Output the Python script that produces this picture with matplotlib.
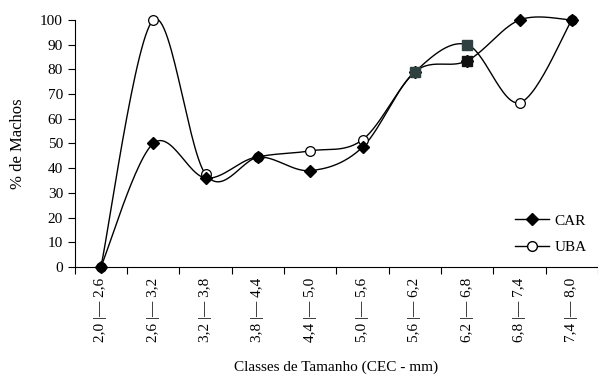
import matplotlib
matplotlib.use('Agg')
import matplotlib.pyplot as plt
import numpy as np

plt.rcParams['font.family'] = ['Liberation Serif', 'DejaVu Serif']

classes = ['2,0 |— 2,6', '2,6 |— 3,2', '3,2 |— 3,8', '3,8 |— 4,4', '4,4 |— 5,0',
           '5,0 |— 5,6', '5,6 |— 6,2', '6,2 |— 6,8', '6,8 |— 7,4', '7,4 |— 8,0']
car = [0, 50, 36, 44.5, 39, 48.5, 79, 83.5, 100, 100]
uba = [0, 100, 37.5, 44.5, 47, 51.5, 79, 90, 66.5, 100]


# smoothed line like the spreadsheet's "smooth line" option
def smooth(x, y, n=30):
    x = np.asarray(x, float)
    y = np.asarray(y, float)
    px = np.concatenate([[x[0]], x, [x[-1]]])
    py = np.concatenate([[y[0]], y, [y[-1]]])
    xs, ys = [], []
    t = np.linspace(0, 1, n)
    for i in range(1, len(px) - 2):
        p0 = np.array([px[i], py[i]])
        p3 = np.array([px[i + 1], py[i + 1]])
        p1 = p0 + (np.array([px[i + 1], py[i + 1]]) - np.array([px[i - 1], py[i - 1]])) / 6
        p2 = p3 - (np.array([px[i + 2], py[i + 2]]) - np.array([px[i], py[i]])) / 6
        b = ((1 - t) ** 3)[:, None] * p0 + (3 * (1 - t) ** 2 * t)[:, None] * p1 \
            + (3 * (1 - t) * t ** 2)[:, None] * p2 + (t ** 3)[:, None] * p3
        xs.extend(b[:, 0])
        ys.extend(b[:, 1])
    return xs, ys


x = np.arange(len(classes))

fig = plt.figure(figsize=(5.98, 3.77), dpi=100)
ax = fig.add_axes([0.125, 0.292, 0.875, 0.655])

sx, sy = smooth(x, uba)
ax.plot(sx, sy, color='black', lw=1, clip_on=False)
sx, sy = smooth(x, car)
ax.plot(sx, sy, color='black', lw=1, clip_on=False)

# markers
ax.plot(x, uba, 'o', ms=7, mfc='white', mec='black', mew=0.9, clip_on=False, zorder=3)
ax.plot(x, car, 'D', ms=6, color='black', clip_on=False, zorder=4)
ax.plot([x[6]], [car[6]], 's', ms=7, color='#2f4040', clip_on=False, zorder=5)
ax.plot([x[7]], [uba[7]], 's', ms=7, color='#2f4040', clip_on=False, zorder=5)
ax.plot([x[7]], [car[7]], 's', ms=7, color='#111111', clip_on=False, zorder=5)

# legend handles
ax.plot([], [], '-D', color='black', lw=1, ms=6, label='CAR')
ax.plot([], [], '-o', color='black', lw=1, ms=7, mfc='white', label='UBA')
handles, labels = ax.get_legend_handles_labels()
ax.legend(handles[-2:], labels[-2:], loc='lower right', bbox_to_anchor=(1.005, -0.005),
          frameon=False, fontsize=11, handlelength=2.2, handletextpad=0.4,
          labelspacing=0.85)

ax.set_xlim(-0.5, 9.5)
ax.set_ylim(0, 100)
ax.set_yticks(range(0, 101, 10))
ax.tick_params(axis='y', labelsize=11, length=5, width=0.8, direction='out')

ax.set_xticks(np.arange(-0.5, 10, 1))
ax.set_xticklabels([])
ax.set_xticks(x, minor=True)
ax.set_xticklabels(classes, minor=True, rotation=90, fontsize=11)
ax.tick_params(axis='x', which='major', length=5, width=0.8, direction='out')
ax.tick_params(axis='x', which='minor', length=0, pad=8)

for s in ['top', 'right']:
    ax.spines[s].set_visible(False)
for s in ['left', 'bottom']:
    ax.spines[s].set_linewidth(0.8)

ax.set_ylabel('% de Machos', fontsize=12, labelpad=10)
ax.set_xlabel('Classes de Tamanho (CEC - mm)', fontsize=11, labelpad=13)

fig.savefig('out.png', dpi=100)
